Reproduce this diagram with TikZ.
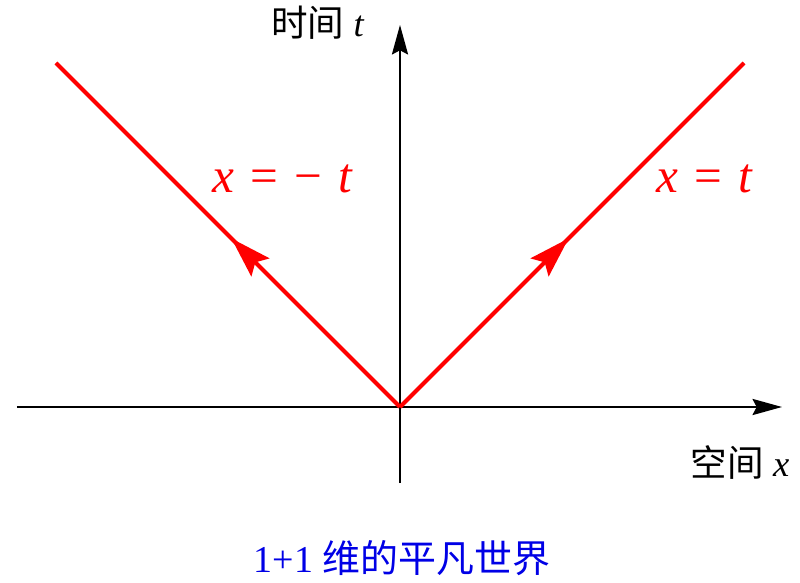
\documentclass[tikz,border=0pt]{standalone}
\usepackage{fontspec}
\setmainfont{Liberation Serif}
\newfontfamily\cjk{Noto Sans CJK SC}
\usetikzlibrary{arrows.meta,decorations.markings}

\definecolor{linered}{RGB}{255,0,0}
\definecolor{capblue}{RGB}{0,0,230}

\newcommand{\gap}{\hspace{0.33em}}

\tikzset{
  axis/.style={line width=1.3pt,-{Stealth[length=21pt,width=11.5pt,inset=3pt]}},
  ray/.style={draw=linered,line width=2.9pt,
    postaction={decorate,decoration={markings,
      mark=at position 0.49 with {\arrow[linered]{Stealth[length=29pt,width=18pt,inset=5pt]}}}}},
  axlabel/.style={font=\fontsize{26}{28}\selectfont},
  raylabel/.style={text=linered,font=\fontsize{35}{38}\selectfont}
}

\begin{document}
\begin{tikzpicture}
  \useasboundingbox (-10,-4.4) rectangle (10,10.175);

  % axes
  \coordinate (O) at (0,0);
  \coordinate (tbot) at (0,-1.9);
  \coordinate (ttop) at (0,9.55);
  \coordinate (xleft) at (-9.575,0);
  \coordinate (xright) at (9.55,0);
  \draw[axis] (tbot) -- (ttop);
  \draw[axis] (xleft) -- (xright);

  % light rays
  \coordinate (rend) at (8.6,8.6);
  \coordinate (lend) at (-8.6,8.6);
  \draw[ray] (O) -- (rend);
  \draw[ray] (O) -- (lend);

  \node[raylabel] (rlab) at (7.62,5.7) {\textit{x}\gap=\gap\textit{t}};
  \node[raylabel] (llab) at (-2.92,5.7) {\textit{x}\gap=\gap−\gap\textit{t}};

  \node[axlabel] (tlab) at (-2.05,9.6) {{\cjk 时间} \textit{t}};
  \node[axlabel] (xlab) at (8.5,-1.4) {{\cjk 空间} \textit{x}};

  \node[text=capblue,font=\fontsize{27}{30}\selectfont] (cap) at (0.05,-3.78) {1+1 {\cjk 维的平凡世界}};
\end{tikzpicture}
\end{document}
